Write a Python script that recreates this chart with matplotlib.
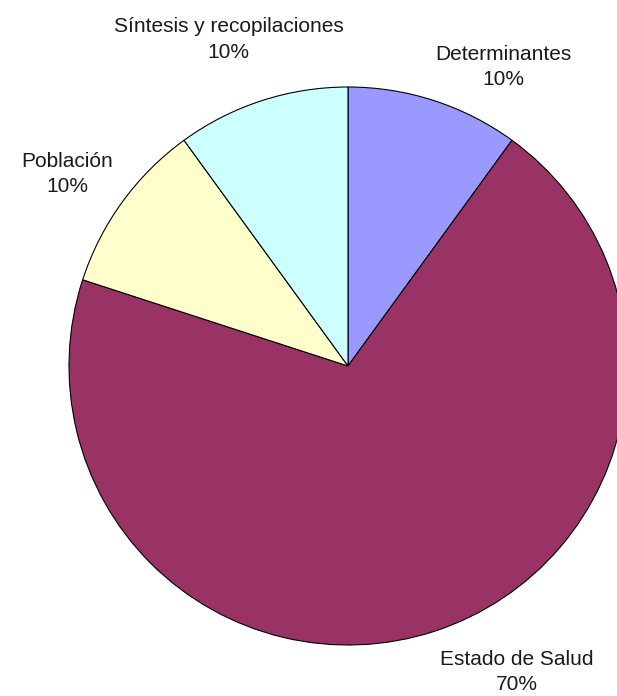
import matplotlib.pyplot as plt

categorias = ["Determinantes", "Estado de Salud", "Población", "Síntesis y recopilaciones"]
valores = [10, 70, 10, 10]
colores = ["#9999FF", "#993366", "#FFFFCC", "#CCFFFF"]

# label anchor points (data coords, pie radius = 1)
pos_etiquetas = [(0.557, 1.072), (0.606, -1.097), (-1.007, 0.688), (-0.428, 1.170)]

plt.rcParams['font.family'] = ['Liberation Sans', 'DejaVu Sans']

W, H = 617, 696
fig = plt.figure(figsize=(W / 100, H / 100), dpi=100)
cx, cy, r = 348, 366, 279
ax = fig.add_axes([(cx - r) / W, (H - cy - r) / H, 2 * r / W, 2 * r / H])

ax.pie(valores, colors=colores, startangle=90, counterclock=False, radius=1,
       wedgeprops=dict(edgecolor='black', linewidth=0.8), frame=False)
ax.set_xlim(-1, 1)
ax.set_ylim(-1, 1)
ax.set_aspect('equal')
ax.axis('off')

total = sum(valores)
for cat, val, (x, y) in zip(categorias, valores, pos_etiquetas):
    ax.text(x, y, f"{cat}\n{round(100 * val / total)}%", ha='center', va='center',
            fontsize=15, color='#1a1a1a', linespacing=1.42, clip_on=False)

fig.savefig("out.png", dpi=100, facecolor='white')
